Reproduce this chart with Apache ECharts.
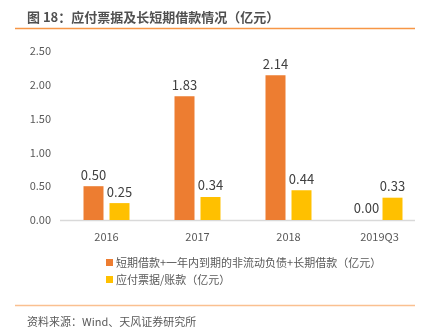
<!DOCTYPE html>
<html><head><meta charset="utf-8">
<script src="https://cdn.jsdelivr.net/npm/echarts@6/dist/echarts.min.js"></script>
<style>html,body{margin:0;padding:0;background:#fff}#c{width:428px;height:336px}</style>
</head><body><div id="c"></div>
<script>
const categories = ['2016', '2017', '2018', '2019Q3'];
const debtValues = [0.50, 1.83, 2.14, 0.00];
const payableValues = [0.25, 0.34, 0.44, 0.33];
const yTicks = [0, 0.5, 1.0, 1.5, 2.0, 2.5];
const seriesNames = ['短期借款+一年内到期的非流动负债+长期借款（亿元）', '应付票据/账款（亿元）'];

const font = '"Microsoft YaHei","Noto Sans CJK SC",sans-serif';
const chart = echarts.init(document.getElementById('c'));
chart.setOption({
  animation: false,
  textStyle: { fontFamily: font },
  title: [
    { text: '图 18：应付票据及长短期借款情况（亿元）', left: 22, top: 6,
      textStyle: { fontSize: 13, fontWeight: 'bold', color: '#505050', fontFamily: font } },
    { text: '资料来源：Wind、天风证券研究所', left: 22, top: 311,
      textStyle: { fontSize: 11, fontWeight: 'normal', color: '#595959', fontFamily: font } }
  ],
  graphic: [
    { type: 'line', shape: { x1: 15, y1: 28.5, x2: 415, y2: 28.5 }, style: { stroke: '#F79646', lineWidth: 1.5 } },
    { type: 'line', shape: { x1: 15, y1: 305.5, x2: 415, y2: 305.5 }, style: { stroke: '#FAC090', lineWidth: 1.5 } },
    { type: 'line', shape: { x1: 60, y1: 220.5, x2: 415, y2: 220.5 }, style: { stroke: '#D9D9D9', lineWidth: 1.5 } }
  ],
  legend: {
    orient: 'vertical', left: 101, top: 252, itemWidth: 7, itemHeight: 7, itemGap: 6,
    icon: 'rect',
    textStyle: { fontSize: 11, color: '#595959', fontFamily: font, padding: [0, 0, 0, -2] },
    data: seriesNames
  },
  grid: { left: 61, right: 3, top: 51, bottom: 116, containLabel: false },
  xAxis: {
    type: 'category', data: categories,
    axisLine: { show: false }, axisTick: { show: false },
    axisLabel: { fontSize: 11, color: '#595959', margin: 11 }
  },
  yAxis: {
    type: 'value', min: 0, max: 2.5, interval: 0.5,
    splitLine: { show: false }, axisLine: { show: false }, axisTick: { show: false },
    axisLabel: { fontSize: 11, color: '#595959', margin: 10,
      formatter: v => yTicks.includes(v) ? v.toFixed(2) : '' }
  },
  series: [
    { name: seriesNames[0], type: 'bar', data: debtValues, barWidth: 20, barGap: '30%',
      itemStyle: { color: '#ED7D31' },
      label: { show: true, position: 'top', distance: 5, fontSize: 13, color: '#404040',
        formatter: p => p.value.toFixed(2) } },
    { name: seriesNames[1], type: 'bar', data: payableValues, barWidth: 20,
      itemStyle: { color: '#FFC000' },
      label: { show: true, position: 'top', distance: 5, fontSize: 13, color: '#404040',
        formatter: p => p.value.toFixed(2) } }
  ]
});
</script></body></html>
